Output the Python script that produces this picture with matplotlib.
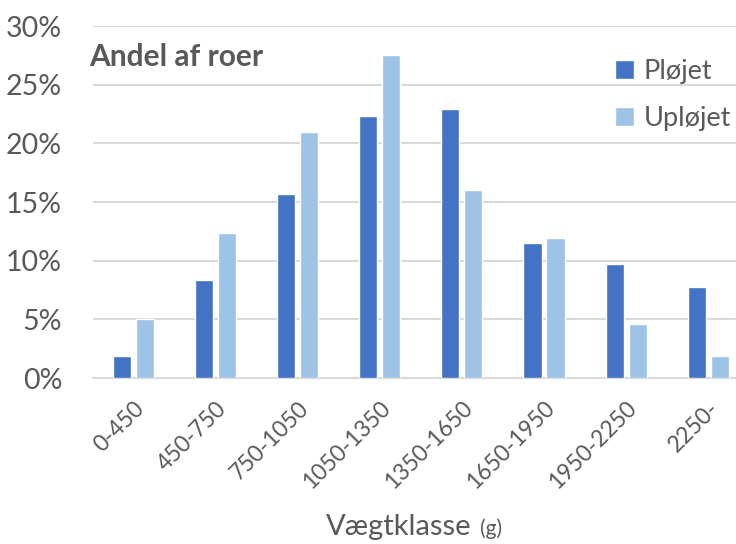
import matplotlib.pyplot as plt
import numpy as np
from matplotlib.ticker import PercentFormatter

# Andel af roer pr. vægtklasse
klasser = ["0-450", "450-750", "750-1050", "1050-1350",
           "1350-1650", "1650-1950", "1950-2250", "2250-"]
plojet = [1.9, 8.4, 15.7, 22.3, 22.9, 11.5, 9.7, 7.8]
uplojet = [5.0, 12.4, 21.0, 27.5, 16.0, 11.9, 4.6, 1.9]

GRAA = "#595959"
plt.rcParams['font.family'] = ['Lato', 'DejaVu Sans']

fig = plt.figure(figsize=(7.36, 5.44), dpi=100)
ax = fig.add_axes([0.126, 0.305, 0.874, 0.647])

x = np.arange(len(klasser))
b = 0.22
ax.bar(x - 0.14, plojet, b, color="#4472C4", edgecolor="white", linewidth=1, label="Pløjet", zorder=3)
ax.bar(x + 0.14, uplojet, b, color="#9DC3E6", edgecolor="white", linewidth=1, label="Upløjet", zorder=3)

ax.set_ylim(0, 30)
ax.set_yticks(range(0, 31, 5))
ax.yaxis.set_major_formatter(PercentFormatter(decimals=0))
ax.set_xlim(-0.5, 7.34)
ax.set_xticks(x)
ax.set_xticklabels(klasser, rotation=45, ha="right", rotation_mode="anchor")

ax.grid(axis="y", color="#D9D9D9", linewidth=1.5, zorder=0)
for s in ["top", "right", "left"]:
    ax.spines[s].set_visible(False)
ax.spines["bottom"].set_color("#D9D9D9")
ax.spines["bottom"].set_linewidth(1.5)
ax.tick_params(axis="both", length=0, colors=GRAA)
ax.tick_params(axis="y", labelsize=20.5, pad=22)
ax.tick_params(axis="x", labelsize=16.5, pad=14)

fig.text(0.121, 0.895, "Andel af roer", fontsize=21.5, fontweight="bold", color=GRAA, va="center")

leg = ax.legend(loc="upper right", bbox_to_anchor=(1.03, 0.975), frameon=False, fontsize=19.5,
                labelcolor=GRAA, handlelength=0.7, handleheight=0.7, labelspacing=0.8,
                handletextpad=0.35)

fig.text(0.641, 0.017, "Vægtklasse", fontsize=21, color=GRAA, ha="right", va="baseline")
fig.text(0.652, 0.017, "(g)", fontsize=15, color=GRAA, ha="left", va="baseline")

fig.savefig("out.png", dpi=100)
